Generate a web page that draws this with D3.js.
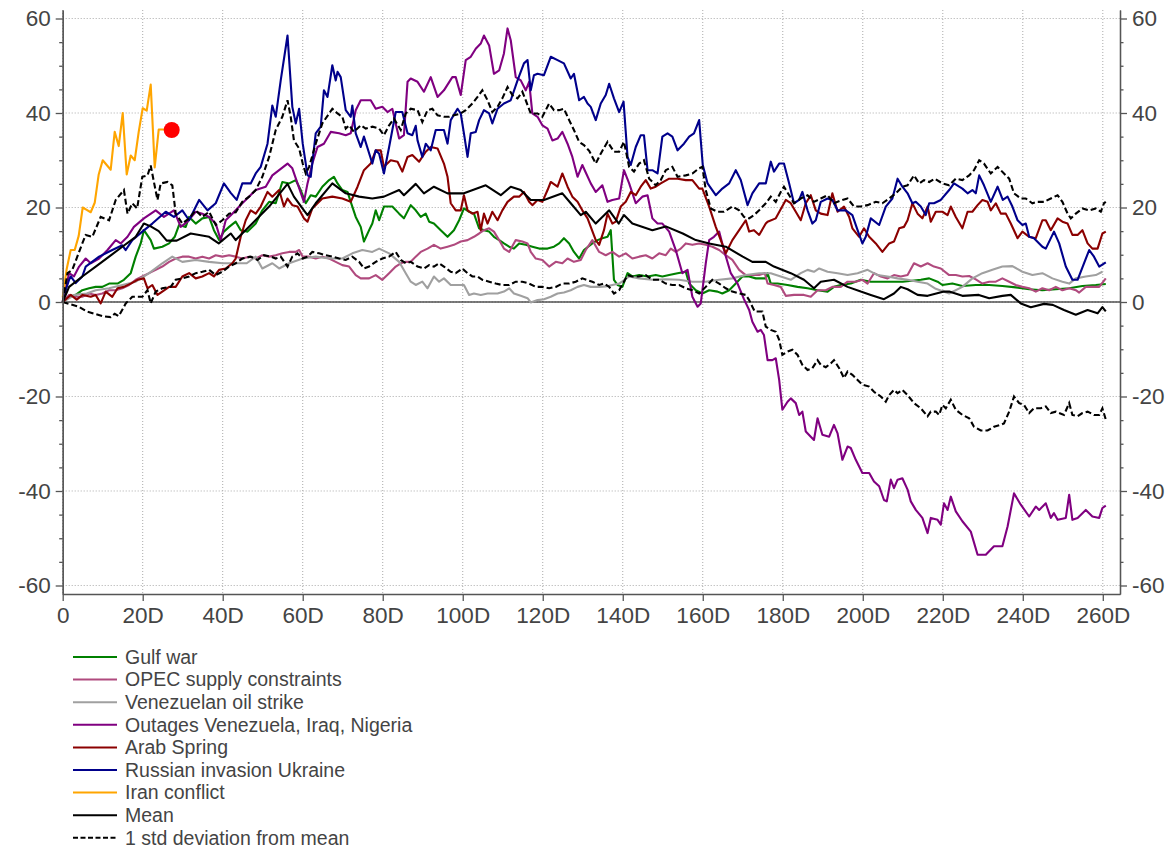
<!DOCTYPE html>
<html>
<head>
<meta charset="utf-8">
<script src="https://cdn.jsdelivr.net/npm/d3@7"></script>
<style>
  body { margin: 0; background: #fff; }
  svg { display: block; font-family: "Liberation Sans", Arial, sans-serif; }
  .tick text { fill: #444; }
</style>
</head>
<body>
<svg id="chart" width="1173" height="848"></svg>
<script>
// Price move (%) per day after each supply shock as [day, value]
const gulfWar = [[0,0],[1.6,1.1],[3.25,1.5],[4.9,2.5],[6.6,2.9],[8.25,3.2],[9.9,3.2],[11.6,3.9],[13.7,3.9],[15.3,4.7],[17,6.1],[18.25,9.6],[19.5,12.4],[20.3,15.2],[22,13.1],[22.8,11.3],[24.9,11.7],[26.6,12.4],[28,13.8],[29.1,16.3],[30.75,15.9],[31.6,18],[33.25,16.6],[34.9,17.7],[36.6,18],[37.8,15.2],[39.1,13.1],[40.3,14.9],[41.6,15.9],[43.25,17],[44.5,15.2],[46.2,14.9],[48.25,16.6],[49.9,19.4],[51.6,21.2],[53.25,20.9],[54.9,25.4],[56.6,25.1],[58.25,25.8],[59.5,23.7],[60.75,20.9],[62,22.6],[63.25,22.3],[64.9,24.4],[66.6,25.8],[67.8,26.5],[68.7,25.1],[69.9,23.7],[71.2,23.3],[72,21.2],[73.25,18],[74.5,15.9],[75.3,12.8],[76.6,15.2],[77.4,16.6],[78.25,19.4],[79.1,17.3],[80.3,20.2],[82.4,20.2],[84.1,18.7],[85.3,17.7],[87,20.5],[88.25,19.4],[89.5,18],[90.75,18.7],[91.6,17],[92.8,16.6],[94.5,15.2],[96.2,13.8],[97.8,15.2],[99.1,17.3],[100.3,19.8],[101.6,19.1],[102.8,18.7],[104.1,15.6],[105.3,15.2],[106.6,14.9],[107.8,13.8],[109.1,13.1],[110.3,12.4],[111.6,11.7],[112.8,11.3],[114.1,12.4],[115.75,12.1],[117.4,11.7],[119.1,11.3],[121.2,11.3],[122.8,11.7],[124.1,12.4],[125.3,13.5],[126.6,12.4],[127.8,10.6],[129.1,9.2],[130.3,11],[132.4,12.4],[133.7,13.1],[134.9,13.5],[136.2,13.8],[137,15.2],[137.8,4.7],[138.7,3.6],[139.9,3.2],[141.2,6.1],[142.4,5.4],[144.1,5.7],[146.2,5.4],[148.25,5.7],[149.9,5.4],[151.6,5.7],[153.7,6.1],[155.75,6.4],[156.6,3.9],[158.25,2.5],[159.9,1.8],[161.6,2.5],[163.7,2.2],[164.9,1.8],[166.6,2.5],[168.25,3.9],[169.9,5.4],[171.6,5.4],[173.25,5],[175.75,5],[176.2,6.1],[177,3.9],[178.7,3.9],[181.2,3.6],[183.7,3.2],[186.2,2.9],[188.7,2.5],[191.2,2.2],[192.8,3.2],[194.5,3.6],[197,3.9],[199.5,4.7],[202,4.3],[206,4.3],[210,4.3],[214.5,4.7],[216.6,5],[218.7,4.3],[219.9,3.6],[222.4,3.9],[224.9,3.4],[228.25,3.6],[231.6,3.6],[234.9,3.4],[238.25,3.1],[241.6,2.7],[244.9,2.5],[248.25,2.7],[251.6,2.9],[254.9,3.4],[258.25,3.6],[260.75,3.8]];

const opecSupply = [[0,0],[1.6,1.5],[3.25,1.1],[4.9,1.1],[6.6,1.8],[8.25,1.5],[9.9,1.8],[11.6,2.5],[13.25,2.5],[14.9,2.9],[16.6,3.6],[18.25,4.7],[19.9,5.4],[21.6,6.1],[23.25,6.8],[24.9,7.5],[26.6,8.5],[28.25,9.2],[29.9,9.6],[31.6,9.6],[33.25,9.2],[34.9,9.6],[36.6,9.2],[38.25,9.9],[39.9,9.6],[41.6,9.9],[43.25,9.6],[44.9,9.2],[46.6,9.6],[48.25,9.2],[49.9,9.9],[51.6,9.6],[53.25,9.9],[54.9,10.3],[56.6,10.6],[58.25,10.6],[59.1,11],[60,9.6],[61.6,9.6],[63.25,9.2],[64.9,9.6],[66.6,9.2],[68.25,8.5],[69.9,7.8],[71.6,7.5],[73.25,5.7],[74.5,5],[76.6,5],[78.25,5.7],[79.9,4.7],[81.6,6.1],[83.25,7.5],[84.5,8.2],[85.75,8.5],[87,8.5],[88.25,9.6],[89.5,10.6],[91.2,11.3],[92.8,12.1],[94.5,11.3],[96.2,11.7],[97.8,12.1],[99.5,12.8],[101.2,13.1],[102.8,13.8],[104.1,14.5],[105.3,15.2],[106.6,15.6],[107.8,14.9],[109.1,13.1],[110.3,11.3],[111.6,10.6],[113.25,13.1],[114.9,12.8],[116.2,12.4],[117,10.6],[118.25,9.2],[119.9,8.9],[121.6,7.5],[123.25,8.5],[124.9,8.2],[126.2,9.2],[127.8,8.5],[129.5,8.9],[130.75,11],[132.4,13.1],[134.1,10.6],[135.75,9.9],[137.4,10.6],[139.1,9.6],[140.75,10.3],[142.4,9.2],[144.1,9.6],[145.75,9.9],[147.4,9.2],[149.1,10.3],[150.75,9.9],[152,11.3],[153.25,10.6],[154.5,11.3],[155.75,12.4],[157.4,12.1],[159.1,12.4],[160.75,12.1],[162.4,11.7],[164.1,11],[165.75,9.9],[167.4,8.9],[169.1,6.8],[170.75,5.7],[172.4,5.7],[174.1,5.7],[175.5,6.1],[176.2,3.9],[177.8,3.6],[179.5,3.2],[180.75,1.3],[182.8,1.5],[185.3,1.5],[187,1.1],[188.7,2.5],[190.75,2.5],[192.4,3.2],[194.5,3.2],[196.2,4.3],[198.25,4.3],[199.9,4.7],[201.2,3.9],[202.8,6.1],[204.5,5.4],[206.2,5],[207.8,5.7],[209.5,5.4],[211.2,5.7],[212.8,8.2],[214.5,7.5],[216.2,8.2],[217.8,7.5],[219.5,7.1],[221.6,5.7],[223.25,5.7],[224.9,5.4],[226.6,5.5],[228.25,4.8],[229.9,3.9],[231.6,4.3],[233.25,4.3],[234.9,5],[236.6,4.3],[238.25,3.6],[239.9,3.2],[241.6,2.9],[243.25,2.2],[244.9,2.9],[246.6,2.5],[248.25,3.2],[249.9,2.5],[251.6,2.9],[253.25,2.5],[254.1,2],[255.75,3.2],[257.4,3.2],[259.1,3.2],[260.75,5]];

const venezuelaStrike = [[0,0],[3,1.5],[6,1.8],[8.25,2.5],[11.6,2.9],[14.9,3.6],[18.25,4.3],[21.6,6.1],[24.9,8.2],[27.4,9.6],[29.9,8.5],[33.25,8.9],[36.6,8.5],[40,8.2],[43.25,8.2],[46,8.2],[48.25,9.6],[49.9,7.1],[52.4,8.2],[54.1,7.1],[56.6,8.2],[60,9.2],[63.25,9.6],[66.6,9.2],[69.9,9.2],[72.4,10.3],[74.9,11],[77.4,10.6],[79.1,11.3],[81.6,10.3],[84.1,8.5],[85.75,6.1],[87,4.3],[88.25,3.6],[89.9,4.3],[91.2,2.9],[92.8,5.4],[94.1,4.3],[95.3,5],[97,3.6],[98.7,3.6],[100.3,3.6],[101.6,1.5],[102.8,1.8],[104.5,1.5],[106.2,1.8],[108.7,1.8],[110.3,2.2],[111.6,2.9],[112.8,1.8],[114.5,1.3],[116.2,0.8],[117,-0.1],[118.7,0.4],[120.3,0.6],[122,1.1],[123.7,1.8],[125.3,2],[127,2.5],[128.7,3.2],[130.3,3.6],[132,3.2],[134.1,3.2],[135.75,3.3],[137.4,3.6],[139.1,3.9],[141.6,5.4],[144.1,5],[147.4,4.7],[150.75,4.8],[154.1,4.7],[157.4,4.3],[160.75,4.3],[164.1,4.7],[167.4,5],[170.75,5.7],[174.1,6.1],[177,6.1],[179.5,5.4],[182,4.7],[184.5,6.1],[186.2,6.8],[187.8,6.4],[189.1,7.1],[191.2,6.4],[193.7,6.1],[196.2,5.7],[198.7,6.1],[201.2,6.8],[203.7,5.7],[206.2,5.4],[208.7,5],[211.2,4.7],[213.7,4.3],[216.2,3.9],[218.25,2.8],[221.6,1.8],[224.9,3.2],[227.4,5],[229.9,6.1],[232.4,6.8],[234.9,7.5],[237.4,7.6],[239.9,6.4],[242.4,5.7],[244.9,6.1],[247.4,5],[249.9,4.3],[251.6,3.9],[253.25,5],[255.75,5.4],[258.25,5.7],[259.9,6.4]];

const outages = [[0,0],[1.6,6.1],[2.8,5.4],[4.1,7.5],[5.75,9.2],[7,8.2],[9.1,9.2],[11.2,11],[13.25,13.1],[14.5,12.4],[16.2,13.8],[17.8,15.9],[20.3,17.7],[23.25,19.4],[25.3,18],[27.8,19.4],[29.5,15.9],[31.2,17],[33.25,19.1],[34.9,18.7],[36.6,18],[38.25,16.6],[39.5,13.1],[40.75,17.3],[42.4,18.7],[44.9,20.9],[48.25,23.7],[50.75,24.4],[52.4,26.8],[54.1,27.9],[56.2,29.3],[57.4,28.3],[58.7,25.1],[60.3,21.2],[61.2,25.1],[62.4,29.3],[63.7,32.8],[65.3,33.5],[67,36],[69.1,35.7],[70.75,35.3],[72,35.7],[73.25,40.6],[74.5,42.7],[77,42.7],[78.25,40.9],[79.9,41.3],[81.2,40.2],[82.4,40.9],[84.1,34.6],[85.3,35.3],[86.2,46.6],[87,47.3],[88.7,46.6],[90.3,44.5],[92,47.6],[93.7,43.4],[95.3,44.8],[97.4,47.6],[98.25,47.6],[99.5,43.8],[100.75,51.2],[102,51.9],[103.25,53.6],[104.5,54.7],[105.3,56.4],[106.6,54.3],[107.8,48.3],[109.1,49],[110.3,52.6],[111.2,57.9],[112,55.4],[113.25,47.6],[114.5,46.9],[115.75,44.8],[116.6,46.6],[117.4,39.9],[118.7,39.2],[119.9,37.4],[121.2,36.7],[122.4,34.2],[123.7,34.6],[124.9,36],[126.2,33.5],[127.4,30.7],[128.7,26.5],[129.9,29],[130.75,27.4],[132,25.1],[133.25,23.3],[134.9,24.7],[136.2,21.2],[137.4,21.6],[139.1,21.9],[140.3,27.9],[141.6,25.1],[143.25,20.9],[144.9,22.3],[146.2,22.6],[147.4,17.7],[148.7,16.6],[149.9,16.6],[151.6,14.9],[153.25,11],[154.9,6.1],[156.2,6.8],[157.4,1.1],[158.7,-1],[159.5,-0.3],[160.75,8.2],[161.6,13.1],[162.8,13.8],[164.1,14.9],[165.3,11],[167,6.1],[168.7,3.9],[170.3,0.6],[171.6,-1.7],[172.4,-4.2],[173.7,-6.3],[174.5,-5.9],[175.3,-7],[176.2,-12.3],[177.4,-12.3],[178.25,-11.9],[179.1,-16.5],[179.9,-22.8],[181.2,-21.1],[182,-20.4],[183.25,-21.4],[184.1,-23.9],[184.9,-23.2],[185.75,-27.4],[187,-28.5],[187.8,-29.2],[188.7,-24.6],[189.9,-28.1],[191.6,-28.5],[192.8,-26],[193.7,-27.8],[194.9,-33.4],[196.2,-30.6],[197,-30.9],[198.25,-33.4],[199.9,-36.2],[201.6,-36.2],[202.8,-38],[204.1,-39],[205.3,-41.9],[206,-42.2],[207,-37.6],[207.8,-39.4],[208.7,-37.6],[209.9,-37.3],[211.2,-39.7],[212,-42.2],[213.25,-44],[214.9,-45.7],[216.2,-48.9],[217,-45.7],[218.7,-46.1],[219.5,-47.1],[220.3,-42.6],[221.2,-44],[222,-41.2],[223.25,-44.3],[224.9,-46.4],[227,-48.6],[228.7,-53.5],[230.75,-53.5],[232.8,-51.7],[234.9,-51.7],[236.2,-47.5],[237.8,-40.5],[239.5,-42.9],[241.6,-45.4],[243.25,-43.3],[244.1,-44],[245.75,-42.6],[247,-45.7],[247.8,-44.7],[248.7,-46.1],[250.75,-45.7],[251.6,-40.8],[252.4,-46.1],[253.7,-45.7],[255.75,-44],[257.4,-45.4],[259.1,-45.7],[259.9,-43.6],[260.75,-43.1]];

const arabSpring = [[0,0],[2,1.5],[3.5,0.5],[5,1.5],[7,1.1],[8.25,1.5],[9.5,-0.3],[10.75,2.2],[12.4,1.1],[13.7,2.9],[15.3,3.2],[17,3.9],[18.7,4.7],[20.3,5],[21.2,2.9],[22.4,3.6],[23.7,1.5],[24.9,2.2],[26.6,3.2],[28.25,3.2],[29.9,5.4],[31.6,6.1],[33.25,5],[34.9,5.4],[36.6,6.1],[37.8,5.4],[39.1,6.8],[40.75,7.1],[42.4,8.2],[43.25,9.2],[44.5,13.8],[45.75,17.3],[47,19.4],[48.25,18.7],[49.5,20.2],[51.2,23.3],[52.4,22.3],[54.1,23.7],[55.3,20.2],[56.2,21.9],[57.4,20.5],[58.7,20.2],[60.3,17.7],[61.2,17],[62.4,19.8],[64.9,21.9],[67.4,22.3],[69.9,21.9],[72,21.2],[73.7,24.4],[75.3,27.9],[77,29.3],[78.25,32.1],[79.5,32.1],[80.3,28.6],[82,30],[83.7,29.7],[84.9,27.6],[86.2,30.7],[87.4,31.1],[89.1,29.7],[90.75,31.8],[92,32.8],[93.7,32.5],[95.3,29.3],[96.2,26.5],[97,20.9],[98.25,19.4],[99.5,19.4],[100.3,22.6],[101.2,19.4],[102.4,18.7],[103.7,19.1],[104.5,15.2],[105.3,18.7],[106.2,16.6],[107.4,19.1],[108.7,17.3],[109.9,19.4],[111.2,21.2],[112.8,22.3],[114.1,22.3],[115.3,23.3],[116.6,21.2],[117.4,20.5],[118.7,21.6],[119.9,21.2],[121.2,23.7],[122,25.4],[123.7,24.4],[124.9,27.2],[126.2,24.4],[127.4,22.3],[128.7,21.2],[129.9,19.4],[131.2,17.7],[132,15.9],[133.25,13.1],[134.1,12.1],[135.3,15.2],[136.2,18.7],[137.4,16.6],[138.25,17],[139.5,20.2],[140.75,21.2],[142,23.3],[143.25,22.6],[144.5,24.4],[145.75,25.8],[147,24],[148.25,24.4],[149.5,25.1],[151.6,26.1],[153.7,26.1],[155.75,25.8],[157.4,25.8],[159.1,24],[159.9,24],[161.6,20.2],[163.25,15.9],[164.5,13.1],[165.75,10.3],[167.4,13.1],[169.1,15.2],[170.75,17.3],[171.6,14.9],[172.8,15.2],[174.1,14.2],[175.75,16.6],[176.2,17],[178.25,17.7],[180.75,21.6],[182,20.9],[183.25,19.1],[184.5,17.3],[185.75,20.9],[187,22.6],[188.25,19.4],[189.5,18.7],[191.2,18.4],[192.4,23],[193.7,19.1],[195.3,20.2],[196.6,18],[197.4,15.6],[199.1,13.8],[200.3,15.6],[201.6,13.8],[203.25,12.4],[204.9,10.6],[206.6,12.4],[207.8,12.8],[209.1,15.6],[210.3,15.9],[211.2,17.3],[212.4,20.9],[213.7,18.7],[214.9,17.7],[216.2,20.2],[217,17],[218.25,19.1],[219.9,19.1],[221.2,18.4],[222,20.2],[223.25,18],[224.9,15.6],[226.2,19.1],[227.4,19.1],[228.7,20.5],[229.9,21.6],[231.2,21.2],[232,19.4],[233.25,20.9],[234.5,18.7],[235.75,18.7],[237,16.6],[238.7,13.5],[239.9,14.9],[241.6,13.8],[243.25,13.5],[244.9,17.3],[245.75,17.3],[247,15.2],[248.7,17.7],[249.9,17],[251.2,16.6],[252.4,14.2],[253.7,14.2],[254.9,15.2],[256.2,12.4],[257.4,11.3],[258.7,11.3],[259.9,14.5],[260.75,14.9]];

const russiaUkraine = [[0,0],[0.75,2.5],[1.6,4.7],[2,5.4],[3.25,4],[4.9,5.4],[5.75,7.5],[9.1,9.6],[12.4,11],[14.9,12],[15.75,11],[17.4,13.1],[19.9,14.9],[22.4,16.6],[25.75,19.1],[27.8,18],[29.9,19.4],[31.6,17.3],[34.1,21.6],[36.2,19.4],[38.25,20.9],[40.3,25.1],[42,23.1],[43.5,21.6],[44.9,25.1],[47,25.1],[48.25,27.2],[49.5,28.6],[51.2,33.5],[52.4,41.6],[53.25,39.2],[54.5,46.9],[56.2,56.4],[57.4,41.3],[58.25,37.8],[59.1,40.9],[60,33.5],[61.2,26.8],[62,26.5],[63.25,35.7],[64.5,37.1],[65.3,44.8],[66.2,43.4],[67.4,50.1],[68.25,46.9],[68.7,48.7],[69.5,47.6],[70.75,40.6],[72,39.2],[72.4,41.6],[73.25,35.7],[74.5,32.8],[75.3,35],[77.4,29.3],[78.25,32.1],[79.1,31.4],[80.3,27.2],[81.6,32.8],[83.25,40.2],[84.9,40.2],[86.2,35.7],[87.4,35.3],[88.25,37.3],[88.7,34.2],[89.9,30.7],[90.75,33.5],[92,32.1],[93.25,36.4],[95.3,36.4],[96.2,33.5],[97,38.5],[98.7,40.9],[99.5,39.9],[100.3,35.7],[101.2,30.7],[102,35.7],[103.25,36],[104.1,38.5],[105.3,40.6],[106.6,39.9],[107.4,37.8],[108.7,40.9],[110.3,42],[112,42.7],[113.7,46.9],[115.3,50.5],[116.2,51.2],[117,44.8],[117.8,48],[118.7,48.3],[120.3,48],[122,51.9],[123.7,51.2],[125.3,50.5],[127,47.3],[127.8,48.3],[129.1,42.7],[130.3,43.4],[131.2,42],[132,41.3],[133.25,38.5],[134.5,42],[135.75,43.8],[136.6,46.2],[137.8,43.1],[139.1,40.2],[140.2,42.4],[141.2,30.7],[142,29],[143.25,32.8],[144.5,35.3],[145.3,35.3],[146.2,27.9],[147.4,27.9],[148.7,27.2],[149.9,35],[151.2,35.7],[152.4,35],[153.7,32.1],[155.3,33.5],[156.6,35],[157.8,35.7],[159.1,38.5],[160,29],[161.2,25.1],[163.25,22.6],[164.9,24],[166.6,25.1],[168.25,27.9],[169.5,25.8],[171.2,20.5],[172.4,23],[174.1,25.1],[175.75,25.1],[177,29.7],[177.8,27.6],[179.1,29.3],[180.3,29.3],[181.6,25.1],[182.8,20.9],[184.1,21.6],[184.9,23.3],[186.2,19.4],[187.4,16.6],[188.25,17.3],[189.5,21.2],[191.2,21.9],[192.4,21.6],[193.7,19.4],[195.75,19.4],[197.4,18.4],[198.7,15.2],[199.9,12.4],[200.75,13.8],[202,17.7],[204.1,16.3],[205.75,20.2],[207.4,21.9],[208.7,26.1],[209.9,24.4],[211.2,23],[212.4,20.9],[213.25,21.2],[214.5,20.2],[215.75,18.4],[216.6,20.9],[217.8,20.9],[219.5,21.6],[221.6,23.7],[222.8,25.1],[224.1,24.4],[224.9,24],[226.2,23],[227.4,23.7],[228.25,23],[229.1,26.8],[230.3,24.7],[232,21.2],[233.7,24.4],[235,21.6],[236.2,22.3],[237.4,20.2],[238.7,17.3],[239.9,16.3],[240.75,16.6],[241.6,13.8],[242.8,13.5],[244.9,11.7],[245.75,11.3],[247.8,14.9],[249.1,12.4],[250.75,7.5],[252.4,4.7],[253.7,4.7],[255.3,8.2],[256.6,11],[257.8,9.6],[259.1,7.5],[260.75,8.4]];

const iranConflict = [[0,1],[1,7],[2,11],[3,11],[4,14],[5,20],[6,19.5],[7,19],[8,21],[9,27],[10,30],[11,29],[12,28],[13,36],[14,33],[15,40],[16,27],[17,31],[18,30],[19,36],[20,41],[21,40.5],[22,46],[23,28.5],[24,36.5],[25,36.5],[26,36.5],[27,36.5]];

const meanPath = [[0,0],[1.6,3.2],[4.9,5.4],[8.25,7.5],[11.6,9.6],[14.9,11.7],[18.25,13.8],[20.3,16.6],[22,16],[24,15],[26,13],[28.5,13],[32,14.5],[36.6,13.8],[39,12.4],[42,14.5],[43.25,13.1],[47.4,16.6],[51.6,20.2],[56.2,25],[57.8,22.3],[60.3,19.4],[61.2,18.4],[63.25,20.9],[67.4,25.1],[70.75,23],[74.1,22.3],[77.4,21.9],[80.3,22.3],[84.1,23.7],[85.3,22.6],[88.25,25],[90.3,23],[92.8,24.4],[96.2,23],[100.3,23],[105.75,24.7],[109.5,22.6],[112,24.4],[114.5,23.7],[117,21.6],[120.3,21.6],[124.9,23],[127,20.9],[129.5,18.4],[130.75,19.1],[133.25,16.6],[136.6,19.4],[139,16.6],[140.3,18.4],[142.4,16.6],[147.4,15.2],[150.75,16],[155,14.5],[158.25,13.1],[161.6,12.4],[165.75,11.7],[170,9.6],[172.4,8.5],[175.75,8.5],[177.8,7.5],[182,6.1],[185.3,4.7],[187.8,2.9],[189.5,4.3],[192.8,4.7],[196.2,3.2],[199.5,2.2],[202,1.5],[205.3,0.6],[207.8,1.8],[209.5,3.2],[211.2,2.7],[213.7,1.5],[216.2,1.3],[220.3,2.2],[221.6,2.2],[224.9,1.3],[229,1.5],[231.6,0.8],[234.9,1.3],[237,1.5],[239.5,-0.3],[242,-1.1],[245.3,-0.4],[247.5,-0.6],[250.3,-1.7],[253.25,-2.7],[256.2,-1.7],[258.7,-2.4],[259.9,-1.1],[260.75,-2]];

const stdUpper = [[0,0],[1.2,6.1],[2.4,6.8],[4.9,12.4],[5.75,14.2],[7.4,13.8],[9.5,18],[11.6,17.3],[13.25,21.6],[15.3,23.7],[16.2,18.7],[17.4,20.9],[18.6,19.8],[19.9,26.5],[21.2,26.8],[22,28.9],[22.8,25.4],[23.7,21.6],[24.5,25.1],[26.2,25.4],[27.4,24.7],[28.25,18.7],[29.9,16.6],[31.6,17.7],[33.25,19.4],[34.9,18],[36.6,19.1],[38.25,16.3],[39.9,17.3],[41.6,18.7],[43.25,19],[44.9,21.2],[46.6,22.3],[48.25,23.7],[49.9,26.5],[51.6,30.7],[53.25,36.4],[54.9,39.2],[56.2,42.7],[57,39.2],[57.8,34.2],[59.1,32.5],[60,29.3],[60.75,27.2],[61.6,28.6],[63.25,33.5],[64.9,37.8],[66.6,39.9],[67.4,40.9],[68.7,39.9],[69.9,39.2],[70.75,36.7],[71.6,37.4],[72.8,36],[74.5,37.4],[75.75,36.7],[77.4,37.1],[79.1,36.7],[80.3,35.3],[81.6,37.4],[82.8,38.8],[84.5,36.4],[85.75,39.9],[87,40.9],[88.7,40.6],[89.9,38.1],[91.2,40.6],[92.4,40.9],[93.7,39.5],[95.3,39.2],[96.6,39.2],[97.8,39.5],[99.5,39.9],[100.75,40.6],[102.4,42],[103.7,43.4],[104.9,44.8],[106.2,42.7],[107.4,40.2],[108.7,41.3],[109.9,43.1],[111.2,45.5],[112.4,43.8],[113.7,43.1],[114.9,44.5],[115.75,42.7],[117,39.9],[118.7,39.9],[119.9,39.2],[121.6,42],[122.8,40.6],[124.1,40.6],[125.3,40.9],[126.6,38.5],[127.8,36.4],[129.1,33.9],[130.3,33.2],[131.6,32],[133.25,29.3],[134.5,31.4],[136.2,33.9],[137.8,31.8],[139.1,31.8],[140.3,33.9],[141.6,28.6],[142.8,27.6],[144.1,29.3],[145.3,30],[146.6,26.1],[148.25,24.7],[149.5,25.8],[150.75,27.9],[152.4,28.6],[153.7,26.5],[155.75,26.8],[157.4,27.2],[159.1,28.3],[159.9,28.6],[160.75,23.7],[162,19.8],[163.7,19.1],[165.3,19.1],[167.4,20.2],[169.1,19.4],[170.3,18],[171.6,17.7],[172.8,18.4],[174.1,19.4],[175.75,20.9],[177,22.3],[178.25,21.2],[179.5,23.3],[180.3,24.4],[181.6,22.6],[182.8,20.9],[184.5,21.9],[186.2,22.6],[187.8,21.2],[189.5,21.9],[191.2,22.6],[192.8,20.9],[194.9,21.6],[196.2,21.9],[197.8,20.2],[199.5,20.2],[201.2,20.5],[203.25,21.2],[204.9,20.9],[206.6,21.9],[208.25,23],[209.9,24.4],[211.2,24.7],[212.8,26.8],[214.1,25.1],[215.3,25.8],[216.6,25.4],[218,26.1],[219.9,25.1],[221.6,24.7],[223.25,26.1],[224.9,25.8],[226.6,26.8],[227.8,27.9],[229.1,30],[230.3,29.3],[232,27.2],[233.7,28.6],[235.3,27.2],[236.6,26.1],[237.8,23],[239.5,21.9],[240.75,21.9],[242.4,20.9],[243.7,21.2],[245.3,21.2],[247,21.9],[248.7,22.6],[249.9,21.2],[251.2,18.7],[252,17.7],[253.25,18.7],[254.9,19.8],[256.6,19.4],[258.25,19.8],[259.5,19.1],[260.3,20.9],[260.75,21.2]];

const stdLower = [[0,0],[2,-0.5],[4,-1],[6,-2],[8,-2.5],[10,-3],[12,-3.2],[13,-2.5],[14,-3],[15,-1.5],[15.75,-0.3],[17.4,1.1],[19.9,1.1],[21.2,2.5],[22,-0.3],[23.25,2.2],[24.9,2.9],[27,3.2],[28.25,4.7],[29.9,5],[31.6,5.4],[33.25,6.1],[34.9,6.4],[36.6,6.8],[38.25,5.7],[39.9,6.4],[41.6,7.5],[43.25,8.2],[44.9,9.2],[47,9.6],[48.7,8.9],[50.3,9.9],[52,9.6],[53.25,9.2],[54.5,9.6],[56.2,7.5],[57.4,9.6],[58.7,10.3],[60,9.2],[61.2,9.6],[62.4,10.6],[64.1,10.3],[65.75,9.9],[67.4,9.6],[69.1,9.2],[70.75,8.9],[72.4,9.6],[74.1,8.5],[75.3,7.1],[76.6,7.5],[78.25,8.5],[79.9,9.2],[81.6,9.6],[83.25,10.6],[84.5,8.9],[85.75,8.2],[87,8.5],[88.7,7.5],[90.3,7.1],[91.6,7.8],[92.8,7.5],[94.1,8.2],[95.3,7.5],[97,6.4],[98.25,6.1],[99.9,7.1],[101.2,6.1],[102.4,5.4],[103.7,5.4],[104.9,4.7],[106.6,4.3],[108.25,3.9],[109.9,3.6],[111.6,3.6],[113.25,4.3],[114.9,4.3],[116.6,3.9],[118.25,3.2],[119.9,3.2],[121.6,2.9],[123.25,3.2],[124.9,3.9],[126.6,3.9],[128.25,4.3],[129.9,5],[132.4,4.3],[134.1,3.6],[135.3,3.9],[136.6,3.2],[137.8,1.8],[139.1,2.5],[141.2,5.7],[142.4,5.4],[144.1,5.4],[145.75,5.7],[147.4,4.7],[149.1,4.7],[150.75,3.9],[152.4,3.6],[154.1,3.6],[155.75,2.9],[157.4,2.5],[159.1,1.8],[160.75,3.2],[162.4,4.7],[164.1,3.9],[165.75,2.9],[167.4,2.2],[169.1,1.8],[170.75,1.5],[171.6,0.4],[172.4,-1],[173,-2],[174.9,-2],[175.75,-5.2],[177,-5.9],[178.25,-6.3],[179.1,-8],[179.9,-11.2],[181.2,-10.5],[182.4,-10.1],[183.7,-11.2],[184.9,-13.3],[186.2,-14.4],[187.4,-14],[188.7,-12.3],[189.5,-13.3],[190.75,-13.8],[192,-13],[192.8,-12.3],[194.1,-14],[195.3,-16.1],[196.2,-14.7],[197.4,-15.4],[198.7,-16.5],[199.9,-17.5],[201.6,-17.9],[202.8,-19],[204.5,-20],[205.75,-21.1],[206.6,-19.7],[207.8,-18.6],[208.7,-19.3],[209.9,-18.6],[211.2,-19.7],[212.8,-21.4],[214.5,-22.5],[216.2,-24.2],[217,-23.2],[218.25,-23.2],[219.1,-23.9],[219.9,-21.8],[220.75,-22.5],[222,-20.7],[223.25,-22.8],[224.9,-23.9],[226.6,-24.6],[227.8,-26.4],[229.5,-27.2],[231.2,-27.2],[232.8,-26.4],[234.5,-26],[235.3,-25.7],[236.6,-23.2],[237.8,-20],[239.1,-21.4],[240.3,-21.8],[241.6,-23.5],[242.8,-22.5],[244.5,-22.5],[245.75,-22.1],[247,-23.5],[248.25,-23.2],[250.3,-23.9],[251.6,-21.4],[252.4,-23.9],[253.7,-24.2],[254.9,-23.5],[256.2,-23.2],[257.8,-23.9],[259.1,-23.9],[259.9,-22.5],[260.75,-24.9]];

const seriesNames = ["Gulf war", "OPEC supply constraints", "Venezuelan oil strike", "Outages Venezuela, Iraq, Nigeria", "Arab Spring", "Russian invasion Ukraine", "Iran conflict", "Mean", "1 std deviation from mean"];
const seriesColors = ["#008000", "#b04a7e", "#a0a0a0", "#800080", "#8b0000", "#00008b", "#ffa500", "#000000", "#000000"];
const xTicks = [0, 20, 40, 60, 80, 100, 120, 140, 160, 180, 200, 220, 240, 260];
const yTicks = [-60, -40, -20, 0, 20, 40, 60];
const latestPoint = [27.25, 36.4]; // today marker on Iran conflict

const svg = d3.select("#chart");
const plotLeft = 62.7, plotRight = 1120, plotTop = 10, plotBottom = 594;

const x = d3.scaleLinear().domain([0, 264.3]).range([plotLeft, plotRight]);
const y = d3.scaleLinear().domain([-61.8, 61.8]).range([plotBottom, plotTop]);

// dotted grid
const grid = svg.append("g");
grid.selectAll(".gx").data(xTicks).enter().append("line")
  .attr("x1", d => x(d)).attr("x2", d => x(d))
  .attr("y1", plotTop).attr("y2", plotBottom)
  .attr("stroke", "#aaa").attr("stroke-width", 1).attr("stroke-dasharray", "1,2");
grid.selectAll(".gy").data(yTicks).enter().append("line")
  .attr("x1", plotLeft).attr("x2", plotRight)
  .attr("y1", d => y(d)).attr("y2", d => y(d))
  .attr("stroke", "#aaa").attr("stroke-width", 1).attr("stroke-dasharray", "1,2");

// zero line
svg.append("line")
  .attr("x1", plotLeft).attr("x2", plotRight)
  .attr("y1", y(0)).attr("y2", y(0))
  .attr("stroke", "#000").attr("stroke-width", 1);

const line = d3.line().x(d => x(d[0])).y(d => y(d[1]));
const allSeries = [gulfWar, opecSupply, venezuelaStrike, outages, arabSpring, russiaUkraine, iranConflict, meanPath];

const plot = svg.append("g");
allSeries.forEach((s, i) => {
  plot.append("path")
    .datum(s)
    .attr("d", line)
    .attr("fill", "none")
    .attr("stroke", seriesColors[i])
    .attr("stroke-width", 2.1)
    .attr("stroke-linejoin", "round");
});
[stdUpper, stdLower].forEach(s => {
  plot.append("path")
    .datum(s)
    .attr("d", line)
    .attr("fill", "none")
    .attr("stroke", "#000")
    .attr("stroke-width", 2.1)
    .attr("stroke-dasharray", "6,3");
});

plot.append("circle")
  .attr("cx", x(latestPoint[0]))
  .attr("cy", y(latestPoint[1]))
  .attr("r", 8)
  .attr("fill", "#ff0000");

// axes
const axisColor = "#555";
const styleAxis = (g) => {
  g.select(".domain").attr("stroke", axisColor).attr("stroke-width", 1.3);
  g.selectAll(".tick line").attr("stroke", axisColor).attr("stroke-width", 1.3);
  g.selectAll(".tick text").attr("font-size", "22.5px").attr("fill", "#444");
};

svg.append("g")
  .attr("transform", `translate(0,${plotBottom})`)
  .call(d3.axisBottom(x).tickValues(xTicks).tickSize(7).tickSizeOuter(0).tickPadding(6)
    .tickFormat(d => d === 0 ? "0" : d + "D"))
  .call(styleAxis);

const minorY = d3.range(-60, 61, 5).filter(v => v % 20 !== 0);
[["left", plotLeft], ["right", plotRight]].forEach(([side, pos]) => {
  const axisFn = side === "left" ? d3.axisLeft : d3.axisRight;
  svg.append("g")
    .attr("transform", `translate(${pos},0)`)
    .call(axisFn(y).tickValues(minorY).tickSize(3.5).tickSizeOuter(0).tickFormat(""))
    .call(styleAxis);
  svg.append("g")
    .attr("transform", `translate(${pos},0)`)
    .call(axisFn(y).tickValues(yTicks).tickSize(7).tickSizeOuter(0).tickPadding(5)
      .tickFormat(d => String(d)))
    .call(styleAxis);
});

// legend
const legend = svg.append("g");
seriesNames.forEach((name, i) => {
  const ly = 657 + i * 22.6;
  legend.append("line")
    .attr("x1", 73).attr("x2", 117)
    .attr("y1", ly).attr("y2", ly)
    .attr("stroke", seriesColors[i])
    .attr("stroke-width", 2)
    .attr("stroke-dasharray", i === 8 ? "5,2.5" : null);
  legend.append("text")
    .attr("x", 125).attr("y", ly)
    .attr("dy", "0.35em")
    .attr("font-size", "19.5px")
    .attr("fill", "#444")
    .text(name);
});
</script>
</body>
</html>
